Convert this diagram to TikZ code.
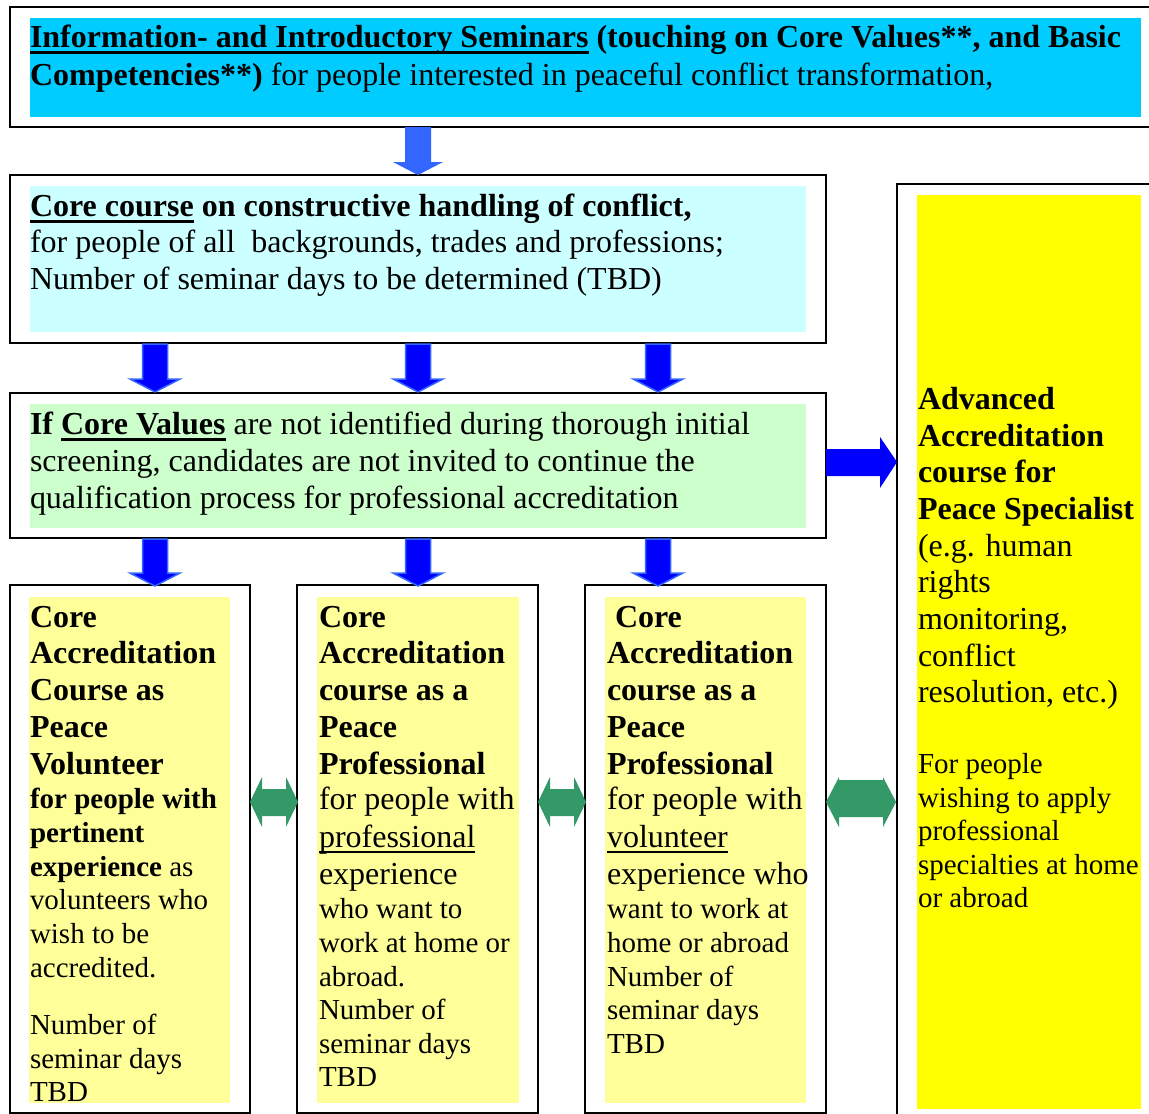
\documentclass[tikz,border=0pt]{standalone}
\usepackage{fontspec}
\setmainfont{Liberation Serif}
\definecolor{cyanA}{HTML}{00CCFF}
\definecolor{cyanB}{HTML}{CCFFFF}
\definecolor{greenB}{HTML}{CCFFCC}
\definecolor{yelA}{HTML}{FFFF99}
\definecolor{yelB}{HTML}{FFFF00}
\definecolor{blueA}{HTML}{0000FF}
\definecolor{blueL}{HTML}{3366FF}
\definecolor{greenA}{HTML}{339966}
\newcommand\fA{\fontsize{32}{37}\selectfont}
\newcommand\fB{\fontsize{29}{34}\selectfont}
\newsavebox\ulbox
\newcommand\ulA[1]{\sbox\ulbox{#1}\rlap{\rule[-6.5pt]{\wd\ulbox}{3pt}}\usebox\ulbox}
\newcommand\ulB[1]{\sbox\ulbox{#1}\rlap{\rule[-6pt]{\wd\ulbox}{2pt}}\usebox\ulbox}
\tikzset{
  frame/.style={draw=black, line width=2pt, fill=white, inner sep=0pt, outer sep=0pt, anchor=north west},
  txt/.style={anchor=base west, inner sep=0pt, outer sep=0pt, font=\fA},
  txs/.style={anchor=base west, inner sep=0pt, outer sep=0pt, font=\fB},
  darrow/.style={fill=blueA, draw=blueL, line width=1.5pt, line join=miter},
  garrow/.style={fill=greenA, draw=none},
}
\begin{document}
\begin{tikzpicture}[x=1pt,y=-1pt]
\useasboundingbox (0,0) rectangle (1149,1114);
\fill[white] (0,0) rectangle (1149,1114);
% frames
\node[frame, minimum width=1155pt, minimum height=120pt] (topbox) at (10,7) {};
\node[frame, minimum width=816pt, minimum height=168pt] (corebox) at (10,175) {};
\node[frame, minimum width=816pt, minimum height=145pt] (ifbox) at (10,393) {};
\node[frame, minimum width=240pt, minimum height=528pt] (boxA) at (10,585) {};
\node[frame, minimum width=241pt, minimum height=528pt] (boxB) at (297,585) {};
\node[frame, minimum width=241pt, minimum height=528pt] (boxC) at (585,585) {};
\node[frame, minimum width=270pt, minimum height=945pt] (boxR) at (897,184) {};
% fills
\fill[cyanA] (30,18) rectangle (1141,117);
\fill[cyanB] (30,186) rectangle (806,332);
\fill[greenB] (30,404) rectangle (806,528);
\fill[yelA] (29,597) rectangle (230,1103);
\fill[yelA] (317,597) rectangle (519,1103);
\fill[yelA] (605,597) rectangle (806,1103);
\fill[yelB] (917,195) rectangle (1141,1109);
% top arrow
\fill[blueL] (418-13,127) -- (418+13,127) -- (418+13,162) -- (418+25,162) -- (418,175) -- (418-25,162) -- (418-13,162) -- cycle;
% down arrows
\foreach \x in {155,418,658}{
  \filldraw[darrow] (\x-12.5,344) -- (\x+12.5,344) -- (\x+12.5,379) -- (\x+25,379) -- (\x,392) -- (\x-25,379) -- (\x-12.5,379) -- cycle;
  \filldraw[darrow] (\x-12.5,539) -- (\x+12.5,539) -- (\x+12.5,573) -- (\x+25,573) -- (\x,586) -- (\x-25,573) -- (\x-12.5,573) -- cycle;
}
% right arrow
\fill[blueA] (826,449) -- (880,449) -- (880,437) -- (897,462) -- (880,488) -- (880,476) -- (826,476) -- cycle;
% green double arrows
\fill[garrow] (250,802) -- (262,777) -- (262,789) -- (286,789) -- (286,777) -- (298,802) -- (286,827) -- (286,816) -- (262,816) -- (262,827) -- cycle;
\fill[garrow] (538,802) -- (550,777) -- (550,789) -- (574,789) -- (574,777) -- (586,802) -- (574,827) -- (574,816) -- (550,816) -- (550,827) -- cycle;
\fill[garrow] (826,802) -- (839,777) -- (839,780) -- (883,780) -- (883,777) -- (896,802) -- (883,827) -- (883,817) -- (839,817) -- (839,827) -- cycle;
% top box text
\node[txt] (t1) at (30,47) {\textbf{\ulA{Information- and Introductory Seminars} (touching on Core Values**, and Basic}};
\node[txt] (t2) at (30,85) {\textbf{Competencies**)} for people interested in peaceful conflict transformation,};
% core box text
\node[txt] (c1) at (30,216) {\textbf{\ulA{Core course} on constructive handling of conflict,}};
\node[txt] (c2) at (30,252) {for people of all\ \ backgrounds, trades and professions;};
\node[txt] (c3) at (30,289) {Number of seminar days to be determined (TBD)};
% if box text
\node[txt] (i1) at (30,434) {\textbf{If \ulA{Core Values}} are not identified during thorough initial};
\node[txt] (i2) at (30,471) {screening, candidates are not invited to continue the};
\node[txt] (i3) at (30,508) {qualification process for professional accreditation};
% box A
\node[txt] (a1) at (30,627) {\textbf{Core}};
\node[txt] (a2) at (30,663) {\textbf{Accreditation}};
\node[txt] (a3) at (30,700) {\textbf{Course as}};
\node[txt] (a4) at (30,737) {\textbf{Peace}};
\node[txt] (a5) at (30,774) {\textbf{Volunteer}};
\node[txs] (a6) at (30,808) {\textbf{for people with}};
\node[txs] (a7) at (30,842) {\textbf{pertinent}};
\node[txs] (a8) at (30,876) {\textbf{experience} as};
\node[txs] (a9) at (30,909) {volunteers who};
\node[txs] (a10) at (30,943) {wish to be};
\node[txs] (a11) at (30,977) {accredited.};
\node[txs] (a12) at (30,1034) {Number of};
\node[txs] (a13) at (30,1068) {seminar days};
\node[txs] (a14) at (30,1101) {TBD};
% box B
\node[txt] (b1) at (319,627) {\textbf{Core}};
\node[txt] (b2) at (319,663) {\textbf{Accreditation}};
\node[txt] (b3) at (319,700) {\textbf{course as a}};
\node[txt] (b4) at (319,737) {\textbf{Peace}};
\node[txt] (b5) at (319,774) {\textbf{Professional}};
\node[txt] (b6) at (319,809) {for people with};
\node[txt] (b7) at (319,847) {\ulB{professional}};
\node[txt] (b8) at (319,884) {experience};
\node[txs] (b9) at (319,918) {who want to};
\node[txs] (b10) at (319,952) {work at home or};
\node[txs] (b11) at (319,986) {abroad.};
\node[txs] (b12) at (319,1019) {Number of};
\node[txs] (b13) at (319,1053) {seminar days};
\node[txs] (b14) at (319,1086) {TBD};
% box C
\node[txt] (d1) at (607,627) {\textbf{\ Core}};
\node[txt] (d2) at (607,663) {\textbf{Accreditation}};
\node[txt] (d3) at (607,700) {\textbf{course as a}};
\node[txt] (d4) at (607,737) {\textbf{Peace}};
\node[txt] (d5) at (607,774) {\textbf{Professional}};
\node[txt] (d6) at (607,809) {for people with};
\node[txt] (d7) at (607,847) {\ulB{volunteer}};
\node[txt] (d8) at (607,884) {experience who};
\node[txs] (d9) at (607,918) {want to work at};
\node[txs] (d10) at (607,952) {home or abroad};
\node[txs] (d11) at (607,986) {Number of};
\node[txs] (d12) at (607,1019) {seminar days};
\node[txs] (d13) at (607,1053) {TBD};
% right box
\node[txt] (r1) at (918,409) {\textbf{Advanced}};
\node[txt] (r2) at (918,446) {\textbf{Accreditation}};
\node[txt] (r3) at (918,482) {\textbf{course for}};
\node[txt] (r4) at (918,519) {\textbf{Peace Specialist}};
\node[txt] (r5) at (918,556) {(e.g. human};
\node[txt] (r6) at (918,592) {rights};
\node[txt] (r7) at (918,629) {monitoring,};
\node[txt] (r8) at (918,666) {conflict};
\node[txt] (r9) at (918,702) {resolution, etc.)};
\node[txs] (r10) at (918,773) {For people};
\node[txs] (r11) at (918,807) {wishing to apply};
\node[txs] (r12) at (918,840) {professional};
\node[txs] (r13) at (918,874) {specialties at home};
\node[txs] (r14) at (918,907) {or abroad};
\end{tikzpicture}
\end{document}
